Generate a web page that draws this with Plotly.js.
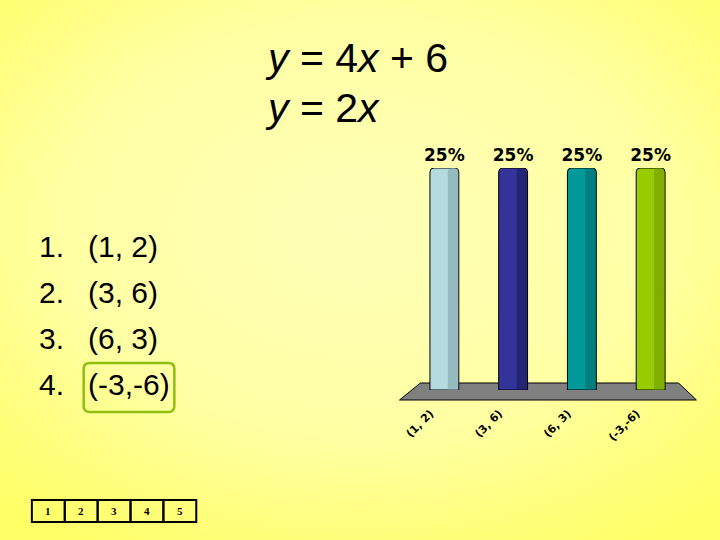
<!DOCTYPE html>
<html>
<head>
<meta charset="utf-8">
<script src="https://cdn.plot.ly/plotly-3.0.1.min.js"></script>
<style>
  html, body { margin:0; padding:0; }
  body {
    width:720px; height:540px; overflow:hidden;
    background: radial-gradient(ellipse 75% 70% at 50% 42%, #ffffb8 0%, #ffffa4 55%, #ffff78 85%, #ffff66 100%);
  }
  #chart { width:720px; height:540px; }
</style>
</head>
<body>
<div id="chart"></div>
<script>
// ---- data ----
const categories = ['(1, 2)', '(3, 6)', '(6, 3)', '(-3,-6)'];
const percents = [25, 25, 25, 25];
const listNumbers = ['1.', '2.', '3.', '4.'];
const listItems = ['(1, 2)', '(3, 6)', '(6, 3)', '(-3,-6)'];
const boxNumbers = ['1', '2', '3', '4', '5'];
const titleLines = ['<i>y</i> = 4<i>x</i> + 6', '<i>y</i> = 2<i>x</i>'];

// ---- styles ----
const barColors = ['#b4dbdf', '#333399', '#009999', '#99cc00'];
const shadeColors = ['rgba(120,160,165,0.55)', 'rgba(20,20,80,0.45)', 'rgba(0,90,90,0.45)', 'rgba(100,140,0,0.45)'];

// plot area in pixels
const L = 409.5, R = 685.5, T = 168, B = 390;
const PX = x => (x - L) / (R - L);
const PY = y => (B - y) / (B - T);

const font = 'Liberation Sans, Arial, sans-serif';

const traces = [
  {
    type: 'bar', x: categories, y: percents,
    marker: { color: barColors, line: { color: '#000', width: 1 } },
    width: 0.42,
    texttemplate: '%{y}%', textposition: 'outside', constraintext: 'none',
    textfont: { family: 'DejaVu Sans, sans-serif', size: 17, color: '#000', weight: 'bold' },
    cliponaxis: false, hoverinfo: 'skip'
  },
  {
    type: 'bar', x: categories, y: percents,
    marker: { color: shadeColors, line: { width: 0 } },
    width: 0.15, offset: 0.05,
    hoverinfo: 'skip', textposition: 'none'
  }
];

const annotations = [];
const shapes = [];

// title
const titleY = [58, 108];
titleLines.forEach((t, i) => {
  annotations.push({
    xref: 'paper', yref: 'paper', x: PX(262), y: PY(titleY[i]),
    xanchor: 'left', yanchor: 'middle', showarrow: false, text: t,
    font: { family: font, size: 41, color: '#000' }
  });
});

// answer list
const listY = [246, 292, 338, 384];
listNumbers.forEach((n, i) => {
  annotations.push({
    xref: 'paper', yref: 'paper', x: PX(35), y: PY(listY[i]),
    xanchor: 'left', yanchor: 'middle', showarrow: false, text: n,
    font: { family: font, size: 30, color: '#000' }
  });
  annotations.push({
    xref: 'paper', yref: 'paper', x: PX(84), y: PY(listY[i]),
    xanchor: 'left', yanchor: 'middle', showarrow: false, text: listItems[i],
    font: { family: font, size: 30, color: '#000' }
  });
});

// rounded green box around correct answer
(function () {
  const x1 = 82, x2 = 173, y1 = 363, y2 = 412, r = 6;
  const p = (x, y) => PX(x) + ',' + PY(y);
  const path = 'M' + p(x1 + r, y1) + ' L' + p(x2 - r, y1) + ' Q' + p(x2, y1) + ' ' + p(x2, y1 + r) +
    ' L' + p(x2, y2 - r) + ' Q' + p(x2, y2) + ' ' + p(x2 - r, y2) +
    ' L' + p(x1 + r, y2) + ' Q' + p(x1, y2) + ' ' + p(x1, y2 - r) +
    ' L' + p(x1, y1 + r) + ' Q' + p(x1, y1) + ' ' + p(x1 + r, y1) + ' Z';
  shapes.push({ type: 'path', xref: 'paper', yref: 'paper', path: path,
    line: { color: '#8fbf10', width: 2.5 }, fillcolor: 'rgba(0,0,0,0)' });
})();

// floor of 3D chart
(function () {
  const p = (x, y) => PX(x) + ',' + PY(y);
  shapes.push({ type: 'path', xref: 'paper', yref: 'paper', layer: 'below',
    path: 'M' + p(420, 383) + ' L' + p(679, 383) + ' L' + p(697, 400) + ' L' + p(399, 400) + ' Z',
    fillcolor: '#808080', line: { color: '#000', width: 1 } });
})();

// bottom number boxes
const bx0 = 30, bw = 33, by1 = 500, by2 = 522;
boxNumbers.forEach((n, i) => {
  shapes.push({ type: 'rect', xref: 'paper', yref: 'paper',
    x0: PX(bx0 + i * bw), x1: PX(bx0 + (i + 1) * bw), y0: PY(by2), y1: PY(by1),
    line: { color: '#000', width: 2 }, fillcolor: 'rgba(0,0,0,0)' });
  annotations.push({ xref: 'paper', yref: 'paper',
    x: PX(bx0 + (i + 0.5) * bw), y: PY((by1 + by2) / 2),
    xanchor: 'center', yanchor: 'middle', showarrow: false, text: '<b>' + n + '</b>',
    font: { family: 'Liberation Serif, Times New Roman, serif', size: 11, color: '#000' } });
});

const layout = {
  width: 720, height: 540,
  margin: { l: L, r: 720 - R, t: T, b: 540 - B, pad: 0 },
  paper_bgcolor: 'rgba(0,0,0,0)', plot_bgcolor: 'rgba(0,0,0,0)',
  barmode: 'overlay', barcornerradius: 4,
  showlegend: false,
  xaxis: {
    type: 'category', range: [-0.5, 3.5], showgrid: false, zeroline: false, showline: false,
    ticks: '', tickangle: -45, ticklabelstandoff: 14, ticklabelshift: -14,
    tickfont: { family: 'DejaVu Sans, sans-serif', size: 11, color: '#000', weight: 'bold' },
    fixedrange: true
  },
  yaxis: { range: [0, 25], visible: false, showgrid: false, zeroline: false, fixedrange: true },
  annotations: annotations,
  shapes: shapes
};

Plotly.newPlot('chart', traces, layout, { displayModeBar: false, staticPlot: true });
</script>
</body>
</html>
